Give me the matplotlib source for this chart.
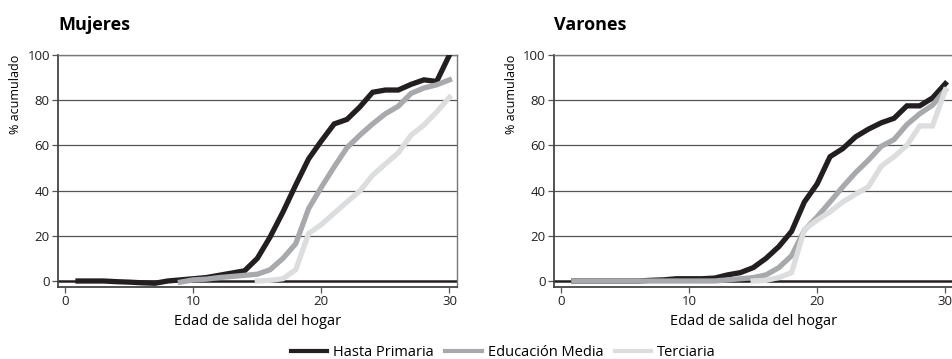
import matplotlib.pyplot as plt

plt.rcParams["font.family"] = ["Open Sans", "DejaVu Sans"]

edad = list(range(1, 31))
series = ["Hasta Primaria", "Educación Media", "Terciaria"]
colores = ["#231f20", "#a7a9ac", "#dcdddf"]

# Mujeres
muj_primaria = [0, 0, 0, -0.3, -0.5, -0.8, -1, 0, 0.5, 1, 1.5, 2.5, 3.5, 4.5, 10,
                19.5, 30.5, 42.5, 54, 62, 69.5, 71.5, 77, 83.5, 84.5, 84.5, 87, 89, 88.3, 100]
muj_media = [None] * 8 + [-0.5, 0.5, 0.8, 1.5, 2, 2.5, 3, 5, 10, 16.5, 32, 41.5,
                          50.5, 59, 64.5, 69.5, 74, 77.3, 83, 85.4, 86.8, 89]
muj_terciaria = [None] * 14 + [0, 0.3, 1, 5, 21, 25, 30, 35, 39.8, 46.8, 51.8,
                               56.7, 64.5, 69, 74.8, 81.3]

# Varones
var_primaria = [0, 0, 0, 0, 0, 0, 0.3, 0.5, 1, 1, 1, 1.3, 2.7, 3.7, 5.9,
                10, 15.2, 22, 35, 43, 55, 58.6, 63.8, 67.2, 70, 72, 77.5, 77.5, 81, 87.3]
var_media = [0] * 12 + [0.5, 1, 1.5, 2.7, 5.9, 11.2, 22.5, 28.4, 35, 41.7, 48,
                        53.5, 59.6, 62.6, 69.2, 74, 77.8, 84.5]
var_terciaria = [None] * 14 + [0, 0.3, 1.5, 3.7, 22.8, 27, 30.6, 35, 38.4, 41.7,
                               50.8, 55, 60, 68.6, 68.6, 84.5]

paneles = [("Mujeres", [muj_primaria, muj_media, muj_terciaria]),
           ("Varones", [var_primaria, var_media, var_terciaria])]

fig = plt.figure(figsize=(9.53, 3.59), dpi=100)
posiciones = [[0.061, 0.2006, 0.4187, 0.6462], [0.5813, 0.2006, 0.4187, 0.6462]]

for (titulo, datos), pos in zip(paneles, posiciones):
    ax = fig.add_axes(pos)
    for y in [20, 40, 60, 80, 100]:
        ax.axhline(y, color="#555555", lw=0.9, zorder=1)
    ax.axhline(0, color="#231f20", lw=1.8, zorder=1)
    for vals, nombre, c in zip(datos, series, colores):
        xs = [e for e, v in zip(edad, vals) if v is not None]
        ys = [v for v in vals if v is not None]
        ax.plot(xs, ys, color=c, lw=3.8, label=nombre, zorder=3,
                solid_joinstyle="miter")
    ax.set_xlim(-0.55, 30.6)
    ax.set_ylim(-2.65, 100)
    ax.set_xticks([0, 10, 20, 30])
    ax.set_yticks([0, 20, 40, 60, 80, 100])
    ax.tick_params(axis="both", labelsize=9.5, colors="#231f20", length=4,
                   width=0.9, pad=2, color="#555555")
    for s in ["top", "right"]:
        ax.spines[s].set_color("#777777")
        ax.spines[s].set_linewidth(1.0)
    for s in ["left", "bottom"]:
        ax.spines[s].set_color("#444444")
        ax.spines[s].set_linewidth(1.3)
    ax.set_ylabel("% acumulado", fontsize=9, loc="top", labelpad=4)
    ax.set_xlabel("Edad de salida del hogar", fontsize=10.5, labelpad=4)
    ax.set_title(titulo, loc="left", fontsize=13, fontweight="bold", pad=18, x=0.0)

handles, labels = ax.get_legend_handles_labels()
leg = fig.legend(handles, labels, loc="lower center", bbox_to_anchor=(0.528, -0.04), ncol=3,
                 frameon=False, fontsize=10.5, handlelength=2.5, handletextpad=0.4,
                 columnspacing=0.8)
for line in leg.get_lines():
    line.set_linewidth(3)

fig.savefig("out.png", dpi=100)
